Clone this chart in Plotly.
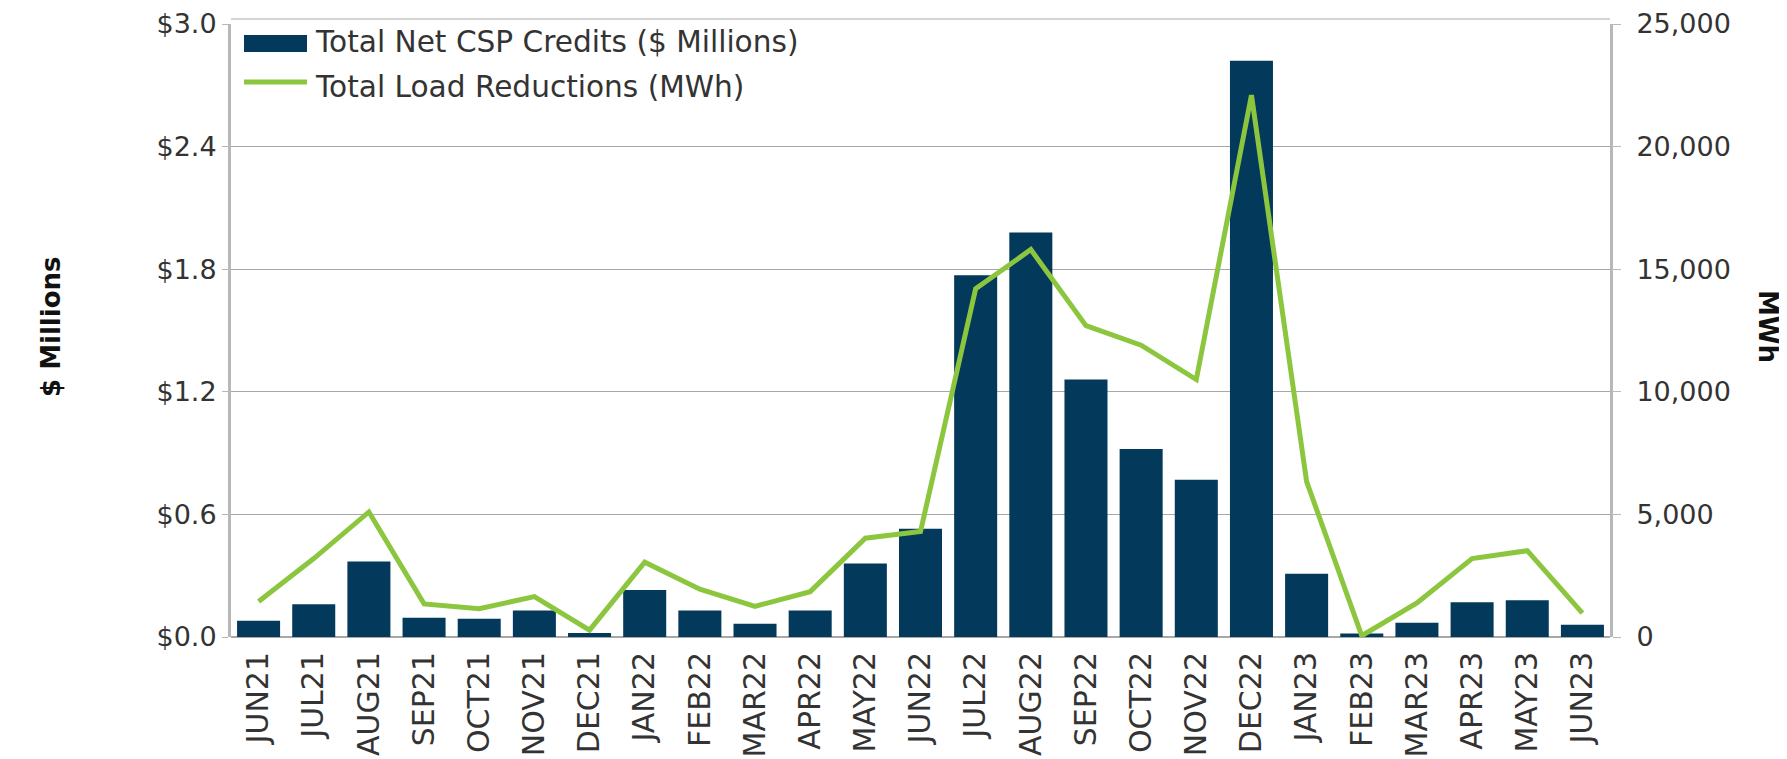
import plotly.graph_objects as go

months = ["JUN21", "JUL21", "AUG21", "SEP21", "OCT21", "NOV21", "DEC21",
          "JAN22", "FEB22", "MAR22", "APR22", "MAY22", "JUN22", "JUL22",
          "AUG22", "SEP22", "OCT22", "NOV22", "DEC22", "JAN23", "FEB23",
          "MAR23", "APR23", "MAY23", "JUN23"]

# Total Net CSP Credits ($ Millions)
credits = [0.08, 0.16, 0.37, 0.094, 0.089, 0.13, 0.02,
           0.23, 0.13, 0.065, 0.13, 0.36, 0.53, 1.77,
           1.98, 1.26, 0.92, 0.77, 2.82, 0.31, 0.017,
           0.07, 0.17, 0.18, 0.06]

# Total Load Reductions (MWh)
load_mwh = [1450, 3200, 5100, 1350, 1150, 1650, 280,
            3050, 1950, 1250, 1850, 4030, 4300, 14200,
            15800, 12700, 11900, 10500, 22100, 6340, 50,
            1390, 3200, 3520, 970]

left_ticks = [0.0, 0.6, 1.2, 1.8, 2.4, 3.0]
left_labels = ["$%.1f" % v for v in left_ticks]
right_ticks = [0, 5000, 10000, 15000, 20000, 25000]
right_labels = ["{:,}".format(v) for v in right_ticks]

NAVY = "#03395a"
GREEN = "#8cc63f"
GRID = "#a8a8a8"
AXIS = "#b8b8b8"
TEXT = "#333333"
FONT = "DejaVu Sans"

# page size and the plot box in page pixels
W, H = 1787, 759
BODY = 8  # default body margin of the html page
L, R, T, B = 231, 177, 24, 122
plot_w = W - L - R
plot_h = H - T - B


def px(x):
    return (x - L) / plot_w


def py(y):
    return (H - B - y) / plot_h


fig = go.Figure()

fig.add_trace(go.Bar(
    x=months,
    y=credits,
    name="Total Net CSP Credits ($ Millions)",
    marker=dict(color=NAVY, line=dict(width=0)),
    yaxis="y"
))

fig.add_trace(go.Scatter(
    x=months,
    y=load_mwh,
    name="Total Load Reductions (MWh)",
    mode="lines",
    line=dict(color=GREEN, width=5),
    yaxis="y2"
))

# legend drawn by hand to get the wide swatches
shapes = [
    dict(type="rect", xref="paper", yref="paper",
         x0=px(244), x1=px(307), y0=py(52), y1=py(35),
         fillcolor=NAVY, line=dict(width=0)),
    dict(type="line", xref="paper", yref="paper",
         x0=px(244), x1=px(307), y0=py(82), y1=py(82),
         line=dict(color=GREEN, width=5)),
    # faint border line above the plot
    dict(type="line", xref="paper", yref="paper",
         x0=0, x1=1, y0=py(19), y1=py(19),
         line=dict(color="#d4d4d4", width=2)),
]

annotations = [
    dict(text="Total Net CSP Credits ($ Millions)", xref="paper", yref="paper",
         x=px(313), y=py(42), xanchor="left", yanchor="middle", showarrow=False,
         font=dict(family=FONT, size=29.6, color=TEXT)),
    dict(text="Total Load Reductions (MWh)", xref="paper", yref="paper",
         x=px(313), y=py(87), xanchor="left", yanchor="middle", showarrow=False,
         font=dict(family=FONT, size=29.6, color=TEXT)),
    dict(text="<b>$ Millions</b>", xref="paper", yref="paper",
         x=px(51), y=py(327), xanchor="center", yanchor="middle", showarrow=False,
         textangle=-90, font=dict(family=FONT, size=26, color="#111111")),
    dict(text="<b>MWh</b>", xref="paper", yref="paper",
         x=px(1768), y=py(326), xanchor="center", yanchor="middle", showarrow=False,
         textangle=90, font=dict(family=FONT, size=26, color="#111111")),
]

fig.update_layout(
    width=W - BODY,
    height=H - BODY,
    margin=dict(l=L - BODY, r=R, t=T - BODY, b=B, pad=0),
    paper_bgcolor="white",
    plot_bgcolor="white",
    showlegend=False,
    bargap=0.22,
    font=dict(family=FONT, color=TEXT),
    shapes=shapes,
    annotations=annotations,
    xaxis=dict(
        type="category",
        tickangle=-90,
        tickfont=dict(family=FONT, size=30, color=TEXT),
        showgrid=False,
        showline=False,
        ticks="",
        ticklabelstandoff=8,
        automargin=False,
    ),
    yaxis=dict(
        range=[0, 3.0],
        tickvals=left_ticks,
        ticktext=left_labels,
        tickfont=dict(family=FONT, size=27, color=TEXT),
        showgrid=True,
        gridcolor=GRID,
        gridwidth=1,
        zeroline=True,
        zerolinecolor=GRID,
        zerolinewidth=2,
        showline=True,
        linecolor=AXIS,
        linewidth=3,
        ticks="outside",
        ticklen=6,
        tickcolor=AXIS,
        automargin=False,
    ),
    yaxis2=dict(
        range=[0, 25000],
        tickvals=right_ticks,
        ticktext=right_labels,
        tickfont=dict(family=FONT, size=27, color=TEXT),
        overlaying="y",
        side="right",
        showgrid=False,
        zeroline=False,
        showline=True,
        linecolor=AXIS,
        linewidth=3,
        ticks="outside",
        ticklen=8,
        tickcolor=AXIS,
        ticklabelstandoff=10,
        automargin=False,
    ),
)

fig.write_html("out.html")
